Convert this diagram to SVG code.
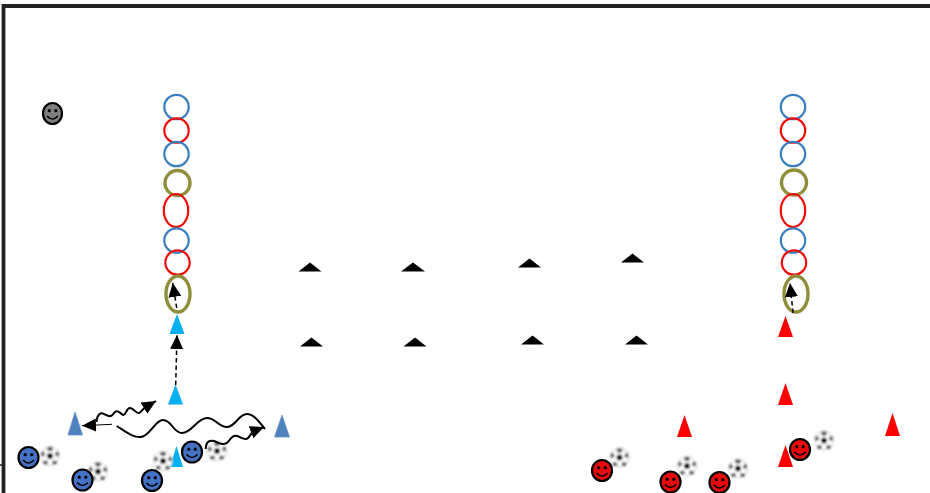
<svg xmlns="http://www.w3.org/2000/svg" width="930" height="493" viewBox="0 0 930 493">
<style>
.ring{fill:none;stroke-width:2.2}
.b{stroke:#3a7ebf}.r{stroke:#f00a0a}
.o{stroke:#8f8f3a;stroke-width:3.400}
.blk{fill:#000}
.cy{fill:#00b0f0}.st{fill:#4f81bd;stroke:#6a94c4;stroke-width:.8}.rd{fill:#f00}
.face{stroke:#000;stroke-width:2.200}
.fb{fill:#4472c4}.fr{fill:#e80a0a}.fg{fill:#7f7f7f}
.wire{fill:none;stroke:#000}
.wave{stroke-width:2}
.dash{stroke-dasharray:4.500 3;stroke-width:1.500}
</style>
<defs>
<marker id="ah" markerUnits="userSpaceOnUse" markerWidth="17" markerHeight="15" refX="14" refY="6.500" orient="auto"><path d="M0,0L14,6.500L0,13Z" fill="#000"/></marker>
<filter id="soft" x="-20%" y="-20%" width="140%" height="140%"><feGaussianBlur stdDeviation=".9"/></filter>
<filter id="soft2" x="-20%" y="-20%" width="140%" height="140%"><feGaussianBlur stdDeviation=".5"/></filter>
<g id="smile"><path d="M-5.500,2.500Q0,8.500 5.500,2.500" fill="none" stroke="#000" stroke-width="1.600"/><circle cx="-3.300" cy="-2.800" r="1.600" fill="#000"/><circle cx="3.300" cy="-2.800" r="1.600" fill="#000"/></g>
<g id="ball" filter="url(#soft)"><circle r="9.500" fill="#fff" stroke="#bbb" stroke-width=".8"/><circle r="3" fill="#000"/><ellipse cy="-7" rx="3" ry="2" fill="#555"/><ellipse cx="7" cy="-2" rx="1.800" ry="2.500" fill="#555"/><ellipse cx="4.500" cy="6.500" rx="2.500" ry="2" fill="#555"/><ellipse cx="-4.500" cy="6.500" rx="2.500" ry="2" fill="#555"/><ellipse cx="-7" cy="-2" rx="1.800" ry="2.500" fill="#555"/></g>
</defs>
<rect width="930" height="493" fill="#fff"/>
<g id="frame"><path d="M3.500,493V6H930" fill="none" stroke="#222" stroke-width="3.800"/><path d="M0,465H2" stroke="#222" stroke-width="1.500"/></g>
<g id="rings-left">
<circle class="ring b" cx="176.500" cy="107" r="12.200"/><circle class="ring r" cx="176.500" cy="130.500" r="12.200"/><circle class="ring b" cx="176.500" cy="154" r="12.200"/><circle class="ring o" cx="177.500" cy="183" r="12.500" filter="url(#soft2)"/><ellipse class="ring r" cx="176" cy="210.500" rx="12.200" ry="16.500"/><circle class="ring b" cx="176.500" cy="240.500" r="12.200"/><circle class="ring r" cx="177.500" cy="262.500" r="12.200"/><ellipse class="ring o" cx="178" cy="294" rx="12" ry="18" filter="url(#soft2)"/>
</g>
<g id="rings-right">
<circle class="ring b" cx="793" cy="107" r="12.200"/><circle class="ring r" cx="793" cy="130.500" r="12.200"/><circle class="ring b" cx="793" cy="154" r="12.200"/><circle class="ring o" cx="794" cy="182.500" r="12.500" filter="url(#soft2)"/><ellipse class="ring r" cx="793" cy="210.500" rx="12.200" ry="16.500"/><circle class="ring b" cx="793" cy="240.500" r="12.200"/><circle class="ring r" cx="794" cy="262.500" r="12.200"/><ellipse class="ring o" cx="796" cy="294" rx="12" ry="18" filter="url(#soft2)"/>
</g>
<g id="black-cones">
<path class="blk" d="M298.500,271.500L310,262.500L321.500,271.500Z"/><path class="blk" d="M401,271.500L413,262.500L425,271.500Z"/><path class="blk" d="M518,267.500L529.500,258.500L541,267.500Z"/><path class="blk" d="M621,262.500L632.500,253.500L644,262.500Z"/>
<path class="blk" d="M300,346.500L311.500,337.500L323,346.500Z"/><path class="blk" d="M403.500,346.500L415,337.500L426.500,346.500Z"/><path class="blk" d="M521,344.500L532.500,335.500L544,344.500Z"/><path class="blk" d="M625,344.500L636.500,335.500L648,344.500Z"/>
</g>
<g id="blue-cones">
<path class="cy" d="M169.500,334L177,314L184.500,334Z"/><path class="cy" d="M168,404.500L175.500,384.500L183,404.500Z"/><path class="cy" d="M170,467L176.500,446L183,467Z"/>
<path class="st" d="M68,435L75,412L82.500,435Z"/><path class="st" d="M274.500,437L282,415L289.500,437Z"/>
</g>
<g id="red-cones">
<path class="rd" d="M778,337L785.500,316L793,337Z"/><path class="rd" d="M778,405L785.500,383L793,405Z"/><path class="rd" d="M677,437L684.500,415L692,437Z"/><path class="rd" d="M885,436L892.500,413L900,436Z"/><path class="rd" d="M778,467L785.500,445L793,467Z"/>
</g>
<g id="balls">
<use href="#ball" x="50" y="456"/><use href="#ball" x="98" y="471.500"/><use href="#ball" x="163" y="461"/><use href="#ball" x="217" y="451"/>
<use href="#ball" x="619.500" y="457.500"/><use href="#ball" x="687" y="466"/><use href="#ball" x="738" y="468.500"/><use href="#ball" x="824" y="440.500"/>
</g>
<g id="player-grey"><ellipse class="face fg" cx="52.500" cy="113.500" rx="9.500" ry="10.500"/><use href="#smile" x="52.500" y="113.500"/></g>
<g id="players-blue">
<g id="pb1"><ellipse class="face fb" cx="28.500" cy="457.500" rx="10" ry="10.500"/><use href="#smile" x="28.500" y="457.500"/></g>
<g id="pb2"><ellipse class="face fb" cx="82.500" cy="480" rx="10" ry="10.500"/><use href="#smile" x="82.500" y="480"/></g>
<g id="pb3"><ellipse class="face fb" cx="152" cy="480.500" rx="10" ry="10.500"/><use href="#smile" x="152" y="480.500"/></g>
<g id="pb4"><ellipse class="face fb" cx="192" cy="452" rx="10" ry="10.500"/><use href="#smile" x="192" y="452"/></g>
</g>
<g id="players-red">
<g id="pr1"><ellipse class="face fr" cx="602" cy="470.500" rx="10" ry="10.500"/><use href="#smile" x="602" y="470.500"/></g>
<g id="pr2"><ellipse class="face fr" cx="670.500" cy="482" rx="10" ry="10.500"/><use href="#smile" x="670.500" y="482"/></g>
<g id="pr3"><ellipse class="face fr" cx="719.500" cy="482.500" rx="10" ry="10.500"/><use href="#smile" x="719.500" y="482.500"/></g>
<g id="pr4"><ellipse class="face fr" cx="800" cy="449.500" rx="10" ry="10.500"/><use href="#smile" x="800" y="449.500"/></g>
</g>
<g id="connectors">
<path class="wire dash" d="M175.700,385L177,335" marker-end="url(#ah)"/>
<path class="wire dash" d="M176.700,308L172.700,283" marker-end="url(#ah)"/>
<path class="wire dash" d="M793,313L790,283" marker-end="url(#ah)"/>
<path class="wire" stroke-width="1" d="M112,424.300L82,425.700" marker-end="url(#ah)"/>
<path class="wire wave" d="M96.500,422C97,414 101,412 104,414C108,416 111,418 114,413C117,409 120,413 123,415C126,416 126,408 130,408C134,408 136,414 139,413C142,412 142,409 146,407L156,401" marker-end="url(#ah)"/>
<path class="wire wave" d="M205.700,449C206,441 210,440 214,441C219,443 224,446 228,442C231,438 233,435 237,436C241,437 245,441 248,438C250,436 251,433 254,431L264,427" marker-end="url(#ah)"/>
<path class="wire wave" d="M116.700,426C125,431 133,438 141,437C150,436 155,420 163,420C172,420 173,433 182,433C192,433 197,418 207,418C216,418 218,427 227,427C236,427 238,414 247,414C254,414 260,423 265,429"/>
</g>
</svg>
